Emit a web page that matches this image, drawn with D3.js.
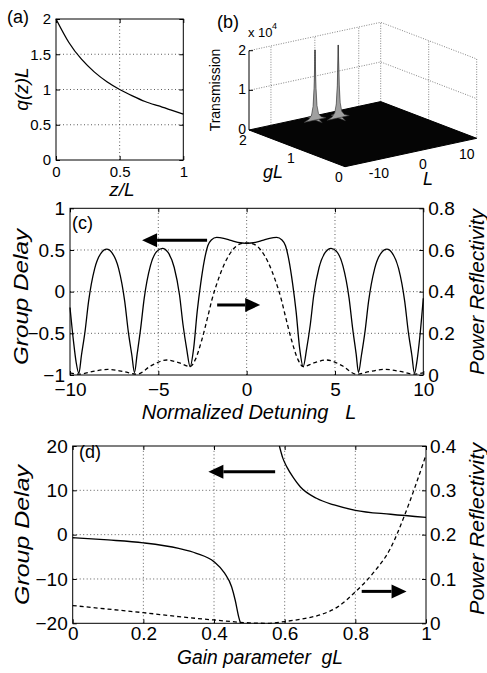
<!DOCTYPE html>
<html>
<head>
<meta charset="utf-8">
<script src="https://cdn.jsdelivr.net/npm/d3@7"></script>
<style>
body { margin: 0; background: #fff; }
svg { font-family: "Liberation Sans", Arial, sans-serif; }
.grid { stroke: #333; stroke-width: 0.8; stroke-dasharray: 1, 2.5; }
.wall { stroke: #666; stroke-width: 0.8; stroke-dasharray: 1, 1.5; fill: none; }
</style>
</head>
<body>
<div class="container"></div>
<script>
const WIDTH = 487;
const HEIGHT = 673;
const FONT = '"Liberation Sans", Arial, sans-serif';

// (a) gain profile
var zTicks = [0, 0.5, 1];
var qTicks = [0, 0.5, 1, 1.5, 2];
var zPos = [0, 0.1, 0.2, 0.3, 0.4, 0.5, 0.6, 0.7, 0.8, 0.9, 1];
var qVal = [2, 1.67, 1.43, 1.25, 1.11, 1.0, 0.91, 0.83, 0.77, 0.71, 0.65];

// (b) transmission surface, peaks only (floor is ~0)
var gLTicks = [0, 1, 2];
var detTicksB = [-10, 0, 10];
var transTicks = [0, 1, 2];
var peakGL = [1.85, 1.75];
var peakL = [-1.6, 2.6];
var peakT = [1.77, 1.84];
var spikeOffset = [-2.5, -1.4, -0.8, -0.45, -0.22, 0, 0.22, 0.45, 0.8, 1.4, 2.5];
var spikeShape = [0, 0.03, 0.08, 0.2, 0.45, 1, 0.45, 0.2, 0.08, 0.03, 0];

// (c) group delay and reflectivity vs detuning
var detTicksC = [-10, -5, 0, 5, 10];
var delayTicksC = [-1, -0.5, 0, 0.5, 1];
var reflTicksC = [0, 0.2, 0.4, 0.6, 0.8];
var detC = [-10, -9.8, -9.65, -9.5, -9.35, -9.15, -8.95, -8.6, -8.25, -7.92, -7.6, -7.25, -6.9, -6.7, -6.5, -6.35,
    -6.2, -6.0, -5.8, -5.45, -5.1, -4.77, -4.45, -4.1, -3.8, -3.6, -3.4, -3.2, -3.0, -2.8, -2.6, -2.4, -2.2, -2.0,
    -1.7, -1.3, -0.9, -0.5, 0, 0.5, 0.9, 1.3, 1.7, 2.0, 2.2, 2.4, 2.6, 2.8, 3.0, 3.2, 3.4, 3.6, 3.8, 4.1, 4.45,
    4.78, 5.1, 5.45, 5.8, 6.0, 6.2, 6.33, 6.5, 6.7, 6.9, 7.25, 7.6, 7.94, 8.25, 8.6, 8.95, 9.15, 9.35, 9.5, 9.65,
    9.8, 10];
var delayC = [-0.19, -0.6, -0.85, -0.98, -0.76, -0.48, -0.12, 0.28, 0.46, 0.51, 0.46, 0.28, -0.12, -0.48, -0.76, -0.97,
    -0.75, -0.44, -0.08, 0.31, 0.48, 0.52, 0.47, 0.29, -0.04, -0.4, -0.68, -0.9, -0.68, -0.24, 0.1, 0.37, 0.55, 0.62,
    0.65, 0.64, 0.615, 0.59, 0.58, 0.59, 0.615, 0.64, 0.65, 0.62, 0.55, 0.37, 0.1, -0.24, -0.68, -0.9, -0.68, -0.4,
    -0.04, 0.29, 0.47, 0.52, 0.48, 0.31, -0.08, -0.44, -0.75, -0.97, -0.76, -0.48, -0.12, 0.28, 0.46, 0.51, 0.46,
    0.28, -0.12, -0.48, -0.76, -0.98, -0.82, -0.55, -0.08];
var detR = [-10, -9.45, -8.7, -7.85, -7.0, -6.2, -5.4, -4.52, -3.8, -3.2, -2.9, -2.54, -2.2, -1.97, -1.6, -1.22, -0.8,
    -0.4, 0, 0.4, 0.8, 1.22, 1.6, 1.97, 2.2, 2.54, 2.9, 3.2, 3.8, 4.52, 5.4, 6.2, 7.0, 7.85, 8.7, 9.45, 10];
var reflC = [0.01, 0.004, 0.017, 0.027, 0.017, 0.004, 0.045, 0.072, 0.058, 0.04, 0.075, 0.168, 0.28, 0.36, 0.46, 0.54,
    0.6, 0.628, 0.634, 0.628, 0.6, 0.54, 0.46, 0.36, 0.28, 0.168, 0.075, 0.04, 0.058, 0.072, 0.045, 0.004, 0.017,
    0.027, 0.017, 0.004, 0.01];

// (d) group delay and reflectivity vs gain
var gainTicks = [0, 0.2, 0.4, 0.6, 0.8, 1];
var delayTicksD = [-20, -10, 0, 10, 20];
var reflTicksD = [0, 0.1, 0.2, 0.3, 0.4];
var gain1 = [0, 0.1, 0.2, 0.3, 0.35, 0.4, 0.43, 0.45, 0.46, 0.47, 0.475];
var delay1 = [-0.7, -1.2, -1.85, -3.1, -4.2, -6.1, -8.7, -11.8, -14.8, -18.6, -20];
var gain2 = [0.585, 0.595, 0.606, 0.625, 0.644, 0.69, 0.74, 0.8, 0.9, 1.0];
var delay2 = [20, 17.2, 15.3, 12.8, 10.8, 8.2, 6.7, 5.5, 4.6, 3.9];
var gainR = [0, 0.1, 0.2, 0.3, 0.4, 0.5, 0.55, 0.6, 0.65, 0.7, 0.75, 0.8, 0.85, 0.9, 0.94, 0.97, 1.0];
var reflD = [0.04, 0.032, 0.024, 0.015, 0.0075, 0.001, 0, 0.004, 0.01, 0.019, 0.037, 0.071, 0.113, 0.17, 0.245, 0.31, 0.38];

// arrows, in data units: [tail x, tip x, y]
var arrowsC = [[-2.24, -5.92, 0.617], [-1.67, 0.765, -0.16]];
var arrowsD = [[0.573, 0.384, 14.2], [0.818, 0.945, -12.8]];


var zip = function (xs, ys) {
    return xs.map(function (v, i) { return [v, ys[i]]; });
};

var svg = d3.select('.container').append('svg')
    .attr('width', WIDTH)
    .attr('height', HEIGHT);

svg.append('rect').attr('width', WIDTH).attr('height', HEIGHT).attr('fill', '#fff');

var label = function (x, y, txt, size, opts) {
    opts = opts || {};
    var t = svg.append('text')
        .attr('transform', 'translate(' + x + ',' + y + ')' + (opts.rotate ? ' rotate(-90)' : ''))
        .attr('font-size', size)
        .attr('text-anchor', opts.anchor || 'start')
        .attr('fill', '#000')
        .style('white-space', 'pre')
        .text(txt);
    if (opts.italic) t.attr('font-style', 'italic');
    if (opts.len) t.attr('textLength', opts.len).attr('lengthAdjust', 'spacingAndGlyphs');
    return t;
};

// grid + box + inward ticks for a 2-D panel
var frame = function (x, y, xTicks, yTicks, cfg) {
    var g = svg.append('g');
    var x0 = x.range()[0], x1 = x.range()[1], y0 = y.range()[0], y1 = y.range()[1];

    g.selectAll('.gx').data(xTicks.slice(1, -1)).enter().append('line')
        .attr('class', 'grid')
        .attr('x1', x).attr('x2', x).attr('y1', y0).attr('y2', y1);
    g.selectAll('.gy').data(yTicks.slice(1, -1)).enter().append('line')
        .attr('class', 'grid')
        .attr('x1', x0).attr('x2', x1).attr('y1', y).attr('y2', y);

    var bottom = g.append('g').attr('transform', 'translate(0,' + y0 + ')')
        .call(d3.axisBottom(x).tickValues(xTicks).tickSize(-4).tickSizeOuter(0)
            .tickPadding(cfg.xPad).tickFormat(d3.format('')));
    var top = g.append('g').attr('transform', 'translate(0,' + y1 + ')')
        .call(d3.axisTop(x).tickValues(xTicks).tickSize(-4).tickSizeOuter(0).tickFormat(''));
    var left = g.append('g').attr('transform', 'translate(' + x0 + ',0)')
        .call(d3.axisLeft(y).tickValues(yTicks).tickSize(-4).tickSizeOuter(0)
            .tickPadding(cfg.yPad).tickFormat(d3.format('')));
    [bottom, top, left].forEach(function (a) {
        a.attr('font-size', cfg.fs).attr('font-family', FONT);
        a.select('.domain').remove();
        a.selectAll('text').attr('fill', '#000');
    });

    g.append('rect')
        .attr('x', x0).attr('y', y1)
        .attr('width', x1 - x0).attr('height', y0 - y1)
        .attr('fill', 'none').attr('stroke', '#000').attr('stroke-width', 1);
    return g;
};

var rightAxis = function (yR, ticks, xPos, fs, pad, labels) {
    var ax = d3.axisRight(yR).tickValues(ticks).tickSize(-4).tickSizeOuter(0).tickPadding(pad);
    ax.tickFormat(labels ? d3.format('') : '');
    var a = svg.append('g').attr('transform', 'translate(' + xPos + ',0)').call(ax);
    a.attr('font-size', fs).attr('font-family', FONT);
    a.select('.domain').remove();
    a.selectAll('text').attr('fill', '#000');
};

var plotLine = function (pts, x, y, dashed, curve) {
    svg.append('path')
        .attr('d', d3.line().x(function (d) { return x(d[0]); }).y(function (d) { return y(d[1]); })
            .curve(curve || d3.curveMonotoneX)(pts))
        .attr('fill', 'none')
        .attr('stroke', '#000')
        .attr('stroke-width', 1.3)
        .attr('stroke-dasharray', dashed ? '4,3' : null);
};

var drawArrow = function (a, x, y) {
    var tail = x(a[0]), tip = x(a[1]), yy = y(a[2]);
    var dir = tip > tail ? 1 : -1;
    var base = tip - dir * 15;
    svg.append('line')
        .attr('x1', tail).attr('x2', base).attr('y1', yy).attr('y2', yy)
        .attr('stroke', '#000').attr('stroke-width', 3);
    svg.append('path')
        .attr('d', 'M' + tip + ',' + yy + 'L' + base + ',' + (yy - 7) + 'L' + base + ',' + (yy + 7) + 'Z')
        .attr('fill', '#000');
};

// ---------- (a)
var xA = d3.scaleLinear().domain([0, 1]).range([56, 183.3]);
var yA = d3.scaleLinear().domain([0, 2]).range([160, 19]);
frame(xA, yA, zTicks, qTicks, {fs: 15, xPad: 6, yPad: 5});
rightAxis(yA, qTicks, 183.3, 15, 4, false);
plotLine(zip(zPos, qVal), xA, yA, false, d3.curveNatural);
label(7, 23, '(a)', 18);
label(28, 89, 'q(z)L', 19, {rotate: true, anchor: 'middle', italic: true});
label(122, 196, 'z/L', 19, {anchor: 'middle', italic: true});

// ---------- (b)
var P0 = [345, 166.7];
var gX = d3.scaleLinear().domain([0, 2]).range([0, -96]);
var gY = d3.scaleLinear().domain([0, 2]).range([0, -36.7]);
var lX = d3.scaleLinear().domain([-15, 15]).range([0, 131.7]);
var lY = d3.scaleLinear().domain([-15, 15]).range([0, -28.4]);
var tZ = d3.scaleLinear().domain([0, 2]).range([0, -79.3]);
var proj = function (g, l, t) {
    return [P0[0] + gX(g) + lX(l), P0[1] + gY(g) + lY(l) + tZ(t)];
};
var poly = d3.line();
var gMax = 2, lMin = -15, lMax = 15, tMax = 2;

var b = svg.append('g');
// back wall (gL = 2) and right wall (L = 15)
b.append('path').attr('class', 'wall')
    .attr('d', poly([proj(gMax, lMin, tMax), proj(gMax, lMax, tMax), proj(0, lMax, tMax), proj(0, lMax, 0)]));
b.append('path').attr('class', 'wall')
    .attr('d', poly([proj(gMax, lMax, 0), proj(gMax, lMax, tMax)]));
detTicksB.forEach(function (l) {
    b.append('path').attr('class', 'wall').attr('d', poly([proj(gMax, l, 0), proj(gMax, l, tMax)]));
});
b.append('path').attr('class', 'wall').attr('d', poly([proj(1, lMax, 0), proj(1, lMax, tMax)]));
b.append('path').attr('class', 'wall')
    .attr('d', poly([proj(gMax, lMin, 1), proj(gMax, lMax, 1), proj(0, lMax, 1)]));

// floor
b.append('path')
    .attr('d', poly([proj(0, lMin, 0), proj(gMax, lMin, 0), proj(gMax, lMax, 0), proj(0, lMax, 0)]) + 'Z')
    .attr('fill', '#050505').attr('stroke', '#000').attr('stroke-width', 1);

// spikes: one cut along L, one along gL
peakGL.forEach(function (g0, i) {
    var l0 = peakL[i], h = peakT[i];
    var cutG = spikeOffset.map(function (o, k) { return proj(g0 + o * 0.06, l0, h * spikeShape[k]); });
    var cutL = spikeOffset.map(function (o, k) { return proj(g0, l0 + o, h * spikeShape[k]); });
    [cutG, cutL].forEach(function (c) {
        b.append('path').attr('d', poly(c) + 'Z')
            .attr('fill', '#a0a0a0').attr('stroke', '#333').attr('stroke-width', 0.6);
    });
});

// z axis
b.append('path').attr('d', poly([proj(gMax, lMin, 0), proj(gMax, lMin, tMax)]))
    .attr('stroke', '#000').attr('stroke-width', 1).attr('fill', 'none');
transTicks.forEach(function (t) {
    var p = proj(gMax, lMin, t);
    b.append('line').attr('x1', p[0]).attr('x2', p[0] + 4).attr('y1', p[1]).attr('y2', p[1])
        .attr('stroke', '#000');
    label(p[0] - 3, p[1] + 4, String(t), 14, {anchor: 'end'});
});
gLTicks.forEach(function (g) {
    var p = proj(g, lMin, 0);
    label(p[0] - 6, p[1] + 15, String(g), 14, {anchor: 'middle'});
});
detTicksB.forEach(function (l) {
    var p = proj(0, l, 0);
    label(p[0] + 12, p[1] + 16, String(l), 14, {anchor: 'middle'});
});
label(248, 37, 'x 10', 13);
label(272, 29, '4', 9);
label(217, 28, '(b)', 18);
label(220, 90, 'Transmission', 14, {rotate: true, anchor: 'middle'});
label(273, 178, 'gL', 18, {anchor: 'middle', italic: true});
label(428, 185, 'L', 18, {anchor: 'middle', italic: true});

// ---------- (c)
var xC = d3.scaleLinear().domain([-10, 10]).range([70, 423.3]);
var yC = d3.scaleLinear().domain([-1, 1]).range([375, 208.3]);
var yCR = d3.scaleLinear().domain([0, 0.8]).range([375, 208.3]);
frame(xC, yC, detTicksC, delayTicksC, {fs: 19, xPad: 8, yPad: 5});
rightAxis(yCR, reflTicksC, 423.3, 19, 5, true);
plotLine(zip(detR, reflC), xC, yCR, true);
plotLine(zip(detC, delayC), xC, yC, false);
arrowsC.forEach(function (a) { drawArrow(a, xC, yC); });
label(72, 229, '(c)', 18);
label(28, 297, 'Group Delay', 20, {rotate: true, anchor: 'middle', italic: true, len: 136});
label(484, 292, 'Power Reflectivity', 20, {rotate: true, anchor: 'middle', italic: true, len: 166});
label(249, 419, 'Normalized Detuning   L', 20, {anchor: 'middle', italic: true});

// ---------- (d)
var xD = d3.scaleLinear().domain([0, 1]).range([72.7, 426]);
var yD = d3.scaleLinear().domain([-20, 20]).range([623.3, 446]);
var yDR = d3.scaleLinear().domain([0, 0.4]).range([623.3, 446]);
frame(xD, yD, gainTicks, delayTicksD, {fs: 19, xPad: 3, yPad: 5});
rightAxis(yDR, reflTicksD, 426, 19, 4, true);
plotLine(zip(gainR, reflD), xD, yDR, true);
plotLine(zip(gain1, delay1), xD, yD, false);
plotLine(zip(gain2, delay2), xD, yD, false);
arrowsD.forEach(function (a) { drawArrow(a, xD, yD); });
label(79, 458, '(d)', 18);
label(29, 535, 'Group Delay', 20, {rotate: true, anchor: 'middle', italic: true, len: 140});
label(484, 529, 'Power Reflectivity', 20, {rotate: true, anchor: 'middle', italic: true, len: 172});
label(260, 664, 'Gain parameter  gL', 20, {anchor: 'middle', italic: true, len: 166});
</script>
</body>
</html>
